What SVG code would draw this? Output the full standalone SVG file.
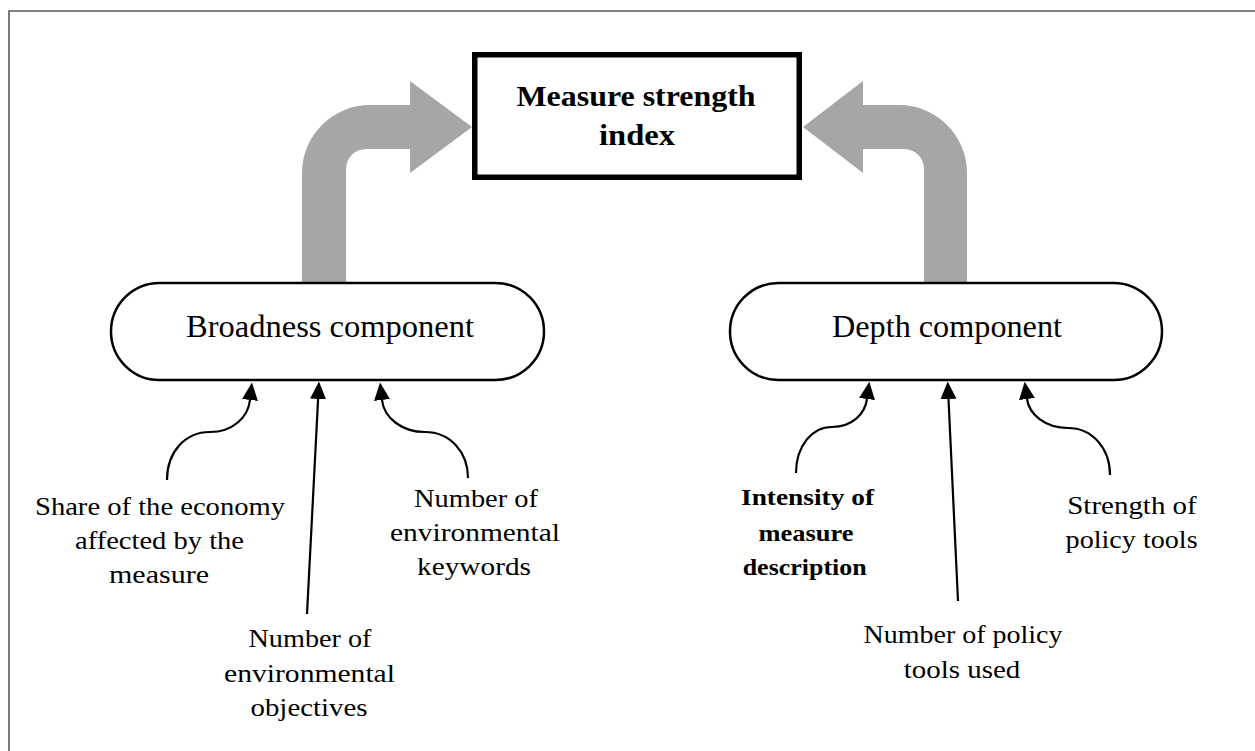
<svg xmlns="http://www.w3.org/2000/svg" width="1255" height="751" viewBox="0 0 1255 751">
<style>
text{font-family:"Liberation Serif","Times New Roman",serif;fill:#000;text-anchor:middle}
.lbl{font-size:25px}
.comp{font-size:31px}
.title{font-size:29px;font-weight:bold}
.bod{font-size:23px;font-weight:bold}
.pill{fill:#fff;stroke:#000;stroke-width:2.5}
.big{fill:#a6a6a6}
.con{fill:none;stroke:#000;stroke-width:2.2}
</style>
<defs>
<marker id="ah" markerUnits="userSpaceOnUse" markerWidth="18" markerHeight="16" viewBox="0 0 18 16" refX="0" refY="8" orient="auto">
<path d="M0,0 L17.5,8 L0,16 z" fill="#000"/>
</marker>
</defs>
<rect width="1255" height="751" fill="#fff"/>
<path d="M9,751 L9,11 L1255,11" fill="none" stroke="#595959" stroke-width="1.6"/>

<g id="connectors">
<path class="big" d="M302,283 L302,173 A68,68 0 0 1 370,105 L410,105 L410,81 L472,127 L410,173 L410,149 L366,149 A20,20 0 0 0 346,169 L346,283 Z"/>
<path class="big" d="M967,283 L967,173 A68,68 0 0 0 899,105 L863,105 L863,81 L803,127 L863,173 L863,149 L904,149 A20,20 0 0 1 924,169 L924,283 Z"/>
<path class="con" marker-end="url(#ah)" d="M167,480 C167,452 185,432 210,432 C232,432 248,418 250,400"/>
<path class="con" marker-end="url(#ah)" d="M307,614 L318.1,399"/>
<path class="con" marker-end="url(#ah)" d="M468,478 C468,452 450,432 425,432 C402,432 384,418 382,400"/>
<path class="con" marker-end="url(#ah)" d="M796,473 C796,446 812,427 832,427 C852,427 865,414 867,399"/>
<path class="con" marker-end="url(#ah)" d="M958,601 L948.5,399"/>
<path class="con" marker-end="url(#ah)" d="M1110,475 C1110,448 1092,428 1068,428 C1045,428 1029,414 1027,399"/>
</g>

<g id="index">
<rect x="474.75" y="54.75" width="324.5" height="122.5" fill="#fff" stroke="#000" stroke-width="5.5"/>
<text class="title" x="636" y="106" textLength="239" lengthAdjust="spacingAndGlyphs">Measure strength</text>
<text class="title" x="637" y="145" textLength="76" lengthAdjust="spacingAndGlyphs">index</text>
</g>

<g id="broadness">
<rect class="pill" x="111" y="283" width="433" height="97" rx="48.5" ry="48.5"/>
<text class="comp" x="330" y="337" textLength="288" lengthAdjust="spacingAndGlyphs">Broadness component</text>
</g>

<g id="depth">
<rect class="pill" x="730" y="283" width="432" height="97" rx="48.5" ry="48.5"/>
<text class="comp" x="947" y="337" textLength="230" lengthAdjust="spacingAndGlyphs">Depth component</text>
</g>

<g id="share">
<text class="lbl" x="160" y="515" textLength="250" lengthAdjust="spacingAndGlyphs">Share of the economy</text>
<text class="lbl" x="159.5" y="549" textLength="169" lengthAdjust="spacingAndGlyphs">affected by the</text>
<text class="lbl" x="159" y="583" textLength="100" lengthAdjust="spacingAndGlyphs">measure</text>
</g>

<g id="objectives">
<text class="lbl" x="310" y="647" textLength="123" lengthAdjust="spacingAndGlyphs">Number of</text>
<text class="lbl" x="309.5" y="682" textLength="171" lengthAdjust="spacingAndGlyphs">environmental</text>
<text class="lbl" x="309" y="716" textLength="117" lengthAdjust="spacingAndGlyphs">objectives</text>
</g>

<g id="keywords">
<text class="lbl" x="476" y="507" textLength="124" lengthAdjust="spacingAndGlyphs">Number of</text>
<text class="lbl" x="475" y="541" textLength="170" lengthAdjust="spacingAndGlyphs">environmental</text>
<text class="lbl" x="474" y="575" textLength="114" lengthAdjust="spacingAndGlyphs">keywords</text>
</g>

<g id="intensity">
<text class="bod" x="807.5" y="505" textLength="133" lengthAdjust="spacingAndGlyphs">Intensity of</text>
<text class="bod" x="806" y="541" textLength="95" lengthAdjust="spacingAndGlyphs">measure</text>
<text class="bod" x="804.7" y="575" textLength="124" lengthAdjust="spacingAndGlyphs">description</text>
</g>

<g id="toolsused">
<text class="lbl" x="963" y="643" textLength="199" lengthAdjust="spacingAndGlyphs">Number of policy</text>
<text class="lbl" x="962" y="678" textLength="116.5" lengthAdjust="spacingAndGlyphs">tools used</text>
</g>

<g id="strength">
<text class="lbl" x="1132" y="514" textLength="129.5" lengthAdjust="spacingAndGlyphs">Strength of</text>
<text class="lbl" x="1131.6" y="548" textLength="132" lengthAdjust="spacingAndGlyphs">policy tools</text>
</g>
</svg>
